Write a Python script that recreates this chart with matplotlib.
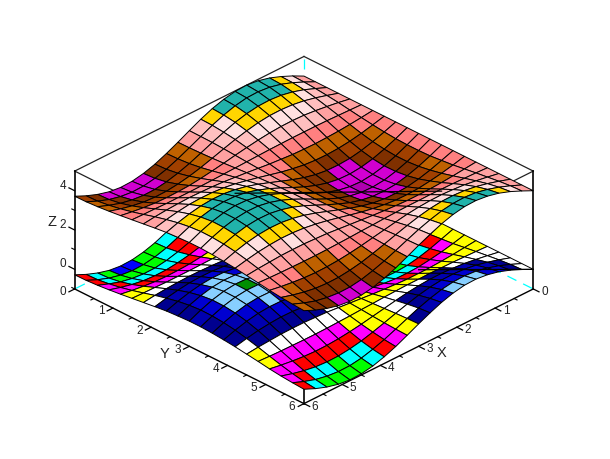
import numpy as np
import matplotlib
matplotlib.use('Agg')
import matplotlib.pyplot as plt
from mpl_toolkits.mplot3d import proj3d

x_vals = [0, .3, .6, .9, 1.2, 1.5, 1.8, 2.1, 2.4, 2.7, 3, 3.3, 3.6, 3.9, 4.2, 4.5, 4.8, 5.1, 5.4, 5.7, 6]
y_vals = [0, .3, .6, .9, 1.2, 1.5, 1.8, 2.1, 2.4, 2.7, 3, 3.3, 3.6, 3.9, 4.2, 4.5, 4.8, 5.1, 5.4, 5.7, 6]

# one row per x value, one column per y value
lower_z = [
    [0, 0, 0, 0, 0, 0, 0, 0, 0, 0, 0, 0, 0, 0, 0, 0, 0, 0, 0, 0, 0],
    [.30, .28, .24, .18, .11, .02, -.07, -.15, -.22, -.27, -.29, -.29, -.27, -.21, -.15, -.06, .03, .11, .19, .25, .28],
    [.56, .54, .47, .35, .20, .04, -.13, -.29, -.42, -.51, -.56, -.56, -.51, -.41, -.28, -.12, .05, .21, .36, .47, .54],
    [.78, .75, .65, .49, .28, .06, -.18, -.40, -.58, -.71, -.78, -.77, -.70, -.57, -.38, -.17, .07, .30, .50, .65, .75],
    [.93, .89, .77, .58, .34, .07, -.21, -.47, -.69, -.84, -.92, -.92, -.84, -.68, -.46, -.20, .08, .35, .59, .78, .89],
    [1.00, .95, .82, .62, .36, .07, -.23, -.50, -.73, -.90, -.99, -.98, -.89, -.72, -.49, -.21, .09, .38, .63, .83, .96],
    [.97, .93, .80, .61, .35, .07, -.22, -.49, -.72, -.88, -.96, -.96, -.87, -.71, -.48, -.21, .08, .37, .62, .81, .94],
    [.86, .82, .71, .54, .31, .06, -.20, -.44, -.64, -.78, -.85, -.85, -.77, -.63, -.42, -.18, .08, .33, .55, .72, .83],
    [.68, .64, .56, .42, .24, .05, -.15, -.34, -.50, -.61, -.67, -.67, -.61, -.49, -.33, -.14, .06, .26, .43, .56, .65],
    [.43, .41, .35, .27, .15, .03, -.10, -.22, -.31, -.39, -.42, -.42, -.38, -.31, -.21, -.09, .04, .16, .27, .36, .41],
    [.14, .13, .12, .09, .05, .01, -.03, -.07, -.10, -.13, -.14, -.14, -.13, -.10, -.07, -.03, .01, .05, .09, .12, .14],
    [-.16, -.15, -.13, -.10, -.06, -.01, .04, .08, .12, .14, .16, .16, .14, .11, .08, .03, -.01, -.06, -.10, -.13, -.15],
    [-.44, -.42, -.37, -.28, -.16, -.03, .10, .22, .33, .40, .44, .44, .40, .32, .22, .09, -.04, -.17, -.28, -.37, -.43],
    [-.69, -.66, -.57, -.43, -.25, -.05, .16, .35, .51, .62, .68, .68, .62, .50, .34, .15, -.06, -.26, -.44, -.57, -.66],
    [-.87, -.83, -.72, -.54, -.32, -.06, .20, .44, .64, .79, .86, .86, .78, .63, .43, .18, -.08, -.33, -.55, -.73, -.84],
    [-.98, -.93, -.81, -.61, -.35, -.07, .22, .49, .72, .88, .97, .97, .88, .71, .48, .21, -.09, -.37, -.62, -.82, -.94],
    [-1.00, -.95, -.82, -.62, -.36, -.07, .23, .50, .73, .90, .99, .98, .89, .72, .49, .21, -.09, -.38, -.63, -.83, -.96],
    [-.93, -.88, -.76, -.58, -.34, -.07, .21, .47, .68, .84, .92, .91, .83, .67, .45, .20, -.08, -.35, -.59, -.77, -.89],
    [-.77, -.74, -.64, -.48, -.28, -.05, .18, .39, .57, .70, .77, .76, .69, .56, .38, .16, -.07, -.29, -.49, -.65, -.74],
    [-.55, -.53, -.45, -.34, -.20, -.04, .13, .28, .41, .50, .55, .54, .49, .40, .27, .12, -.05, -.21, -.35, -.46, -.53],
    [-.28, -.27, -.23, -.17, -.10, -.02, .06, .14, .21, .25, .28, .28, .25, .20, .14, .06, -.02, -.11, -.18, -.23, -.27],
]

upper_z = [
    [4, 4, 4, 4, 4, 4, 4, 4, 4, 4, 4, 4, 4, 4, 4, 4, 4, 4, 4, 4, 4],
    [4.30, 4.28, 4.24, 4.18, 4.11, 4.02, 3.93, 3.85, 3.78, 3.73, 3.71, 3.71, 3.73, 3.79, 3.85, 3.94, 4.03, 4.11, 4.19, 4.25, 4.28],
    [4.56, 4.54, 4.47, 4.35, 4.20, 4.04, 3.87, 3.71, 3.58, 3.49, 3.44, 3.44, 3.49, 3.59, 3.72, 3.88, 4.05, 4.21, 4.36, 4.47, 4.54],
    [4.78, 4.75, 4.65, 4.49, 4.28, 4.06, 3.82, 3.60, 3.42, 3.29, 3.22, 3.23, 3.30, 3.43, 3.62, 3.83, 4.07, 4.30, 4.50, 4.65, 4.75],
    [4.93, 4.89, 4.77, 4.58, 4.34, 4.07, 3.79, 3.53, 3.31, 3.16, 3.08, 3.08, 3.16, 3.32, 3.54, 3.80, 4.08, 4.35, 4.59, 4.78, 4.89],
    [5.00, 4.95, 4.82, 4.62, 4.36, 4.07, 3.77, 3.50, 3.27, 3.10, 3.01, 3.02, 3.11, 3.28, 3.51, 3.79, 4.09, 4.38, 4.63, 4.83, 4.96],
    [4.97, 4.93, 4.80, 4.61, 4.35, 4.07, 3.78, 3.51, 3.28, 3.12, 3.04, 3.04, 3.13, 3.29, 3.52, 3.79, 4.08, 4.37, 4.62, 4.81, 4.94],
    [4.86, 4.82, 4.71, 4.54, 4.31, 4.06, 3.80, 3.56, 3.36, 3.22, 3.15, 3.15, 3.23, 3.37, 3.58, 3.82, 4.08, 4.33, 4.55, 4.72, 4.83],
    [4.68, 4.64, 4.56, 4.42, 4.24, 4.05, 3.85, 3.66, 3.50, 3.39, 3.33, 3.33, 3.39, 3.51, 3.67, 3.86, 4.06, 4.26, 4.43, 4.56, 4.65],
    [4.43, 4.41, 4.35, 4.27, 4.15, 4.03, 3.90, 3.78, 3.69, 3.61, 3.58, 3.58, 3.62, 3.69, 3.79, 3.91, 4.04, 4.16, 4.27, 4.36, 4.41],
    [4.14, 4.13, 4.12, 4.09, 4.05, 4.01, 3.97, 3.93, 3.90, 3.87, 3.86, 3.86, 3.87, 3.90, 3.93, 3.97, 4.01, 4.05, 4.09, 4.12, 4.14],
    [3.84, 3.85, 3.87, 3.90, 3.94, 3.99, 4.04, 4.08, 4.12, 4.14, 4.16, 4.16, 4.14, 4.11, 4.08, 4.03, 3.99, 3.94, 3.90, 3.87, 3.85],
    [3.56, 3.58, 3.63, 3.72, 3.84, 3.97, 4.10, 4.22, 4.33, 4.40, 4.44, 4.44, 4.40, 4.32, 4.22, 4.09, 3.96, 3.83, 3.72, 3.63, 3.57],
    [3.31, 3.34, 3.43, 3.57, 3.75, 3.95, 4.16, 4.35, 4.51, 4.62, 4.68, 4.68, 4.62, 4.50, 4.34, 4.15, 3.94, 3.74, 3.56, 3.43, 3.34],
    [3.13, 3.17, 3.28, 3.46, 3.68, 3.94, 4.20, 4.44, 4.64, 4.79, 4.86, 4.86, 4.78, 4.63, 4.43, 4.18, 3.92, 3.67, 3.45, 3.27, 3.16],
    [3.02, 3.07, 3.19, 3.39, 3.65, 3.93, 4.22, 4.49, 4.72, 4.88, 4.97, 4.97, 4.88, 4.71, 4.48, 4.21, 3.91, 3.63, 3.38, 3.18, 3.06],
    [3.00, 3.05, 3.18, 3.38, 3.64, 3.93, 4.23, 4.50, 4.73, 4.90, 4.99, 4.98, 4.89, 4.72, 4.49, 4.21, 3.91, 3.62, 3.37, 3.17, 3.04],
    [3.07, 3.12, 3.24, 3.42, 3.66, 3.93, 4.21, 4.47, 4.68, 4.84, 4.92, 4.91, 4.83, 4.67, 4.45, 4.20, 3.92, 3.65, 3.41, 3.23, 3.11],
    [3.23, 3.26, 3.36, 3.52, 3.72, 3.95, 4.18, 4.39, 4.57, 4.70, 4.77, 4.76, 4.69, 4.56, 4.38, 4.16, 3.93, 3.71, 3.51, 3.35, 3.26],
    [3.45, 3.47, 3.55, 3.66, 3.80, 3.96, 4.13, 4.28, 4.41, 4.50, 4.55, 4.54, 4.49, 4.40, 4.27, 4.12, 3.95, 3.79, 3.65, 3.54, 3.47],
    [3.72, 3.73, 3.77, 3.83, 3.90, 3.98, 4.06, 4.14, 4.21, 4.25, 4.28, 4.28, 4.25, 4.20, 4.14, 4.06, 3.98, 3.89, 3.82, 3.77, 3.73],
]

xy_ticks = [0, 1, 2, 3, 4, 5, 6]
xy_minor = [.5, 1.5, 2.5, 3.5, 4.5, 5.5]
z_ticks = [0, 2, 4]
z_minor = [-1, 1, 3]

# scilab default colormap
palette = [(0, 0, 0), (0, 0, 1), (0, 1, 0), (0, 1, 1), (1, 0, 0), (1, 0, 1), (1, 1, 0), (1, 1, 1),
           (0, 0, .56), (0, 0, .69), (0, 0, .82), (.53, .81, 1), (0, .56, 0), (0, .69, 0), (0, .82, 0),
           (0, .56, .56), (0, .69, .69), (0, .82, .82), (.56, 0, 0), (.69, 0, 0), (.82, 0, 0),
           (.56, 0, .56), (.69, 0, .69), (.82, 0, .82), (.5, .19, 0), (.63, .25, 0), (.75, .38, 0),
           (1, .5, .5), (1, .63, .63), (1, .75, .75), (1, .88, .88), (1, .84, 0), (.13, .7, .67)]


def facet_colors(z):
    z = np.array(z)
    mean = (z[:-1, :-1] + z[1:, :-1] + z[:-1, 1:] + z[1:, 1:]) / 4
    idx = np.floor(7.82 + mean * 5.333).astype(int)
    return np.array(palette)[np.clip(idx, 1, 33) - 1]


def label(x, y, z, s, size):
    # plain 2d text placed at the projected point
    xp, yp, _ = proj3d.proj_transform(x, y, z, ax.get_proj())
    ax.text2D(xp, yp, s, transform=ax.transData, fontsize=size, ha='center', va='center',
              family='Liberation Sans', color='#222222')


X, Y = np.meshgrid(x_vals, y_vals, indexing='ij')

fig = plt.figure(figsize=(6.1, 4.6), dpi=100)
# axes larger than the figure so the 3d clip square does not cut the box
ax = fig.add_axes([-14.4 / 610, -89.4 / 460, 620 / 610, 620 / 460], projection='3d',
                  computed_zorder=False, proj_type='ortho')
ax.view_init(elev=30, azim=45)
ax.set_box_aspect((324, 324, 136), zoom=.749)
ax.set_xlim(0, 6)
ax.set_ylim(0, 6)
ax.set_zlim(-1, 5)
ax.set_xticks([])
ax.set_yticks([])
ax.set_zticks([])
ax.set_axis_off()

# hidden back edges
for xs, ys, zs in [([0, 6], [0, 0], [-1, -1]), ([0, 0], [0, 6], [-1, -1]), ([0, 0], [0, 0], [-1, 5])]:
    ax.plot(xs, ys, zs, color='cyan', lw=.9, ls=(0, (8, 6)), zorder=1)

box = '#222222'
# top of the box
for xs, ys in [([0, 6], [0, 0]), ([0, 0], [0, 6]), ([6, 6], [0, 6]), ([0, 6], [6, 6])]:
    ax.plot(xs, ys, [5, 5], color=box, lw=.9, zorder=1)
# floor and uprights
ax.plot([6, 6], [0, 6], [-1, -1], color='k', lw=1, zorder=1)
ax.plot([0, 6], [6, 6], [-1, -1], color='k', lw=1, zorder=1)
ax.plot([6, 6], [0, 0], [-1, 5], color='k', lw=1.2, zorder=1)
ax.plot([0, 0], [6, 6], [-1, 5], color='k', lw=1.2, zorder=1)
ax.plot([6, 6], [6, 6], [-1, 5], color='k', lw=1.2, zorder=1)

ax.plot_surface(X, Y, np.array(lower_z), rstride=1, cstride=1, facecolors=facet_colors(lower_z),
                shade=False, edgecolor='k', linewidth=.7, zorder=2)
ax.plot_surface(X, Y, np.array(upper_z), rstride=1, cstride=1, facecolors=facet_colors(upper_z),
                shade=False, edgecolor='k', linewidth=.7, zorder=3)

# closing line between the side corners
ax.plot([3.9, 1.2], [2.1, 4.8], [3.87, 3.98], color='k', lw=.9, zorder=4)
ax.plot([1.5, 0], [4.5, 6], [-.02, 0], color='k', lw=.9, zorder=2.5)

# ticks
tick_len = .15
for t in xy_ticks:
    ax.plot([t, t], [6, 6 + tick_len], [-1, -1], color='k', lw=.9, zorder=1)
    ax.plot([6, 6 + tick_len], [t, t], [-1, -1], color='k', lw=.9, zorder=1)
    label(t, 6.29, -.82, str(t), 8.5)
    label(6.31, t, -.82, str(t), 8.5)
for t in xy_minor:
    ax.plot([t, t], [6, 6 + tick_len / 2], [-1, -1], color='k', lw=.8, zorder=1)
    ax.plot([6, 6 + tick_len / 2], [t, t], [-1, -1], color='k', lw=.8, zorder=1)
for t in z_ticks:
    ax.plot([6, 6], [0, -tick_len], [t, t], color='k', lw=.9, zorder=1)
    label(6, -.31, t, str(t), 8.5)
for t in z_minor:
    ax.plot([6, 6], [0, -tick_len / 2], [t, t], color='k', lw=.8, zorder=1)

label(3, 6.6, -.72, 'X', 10.5)
label(6.65, 3, -.7, 'Y', 10.5)
label(6, -.6, 1.9, 'Z', 10.5)

plt.savefig('out.png', dpi=100)
